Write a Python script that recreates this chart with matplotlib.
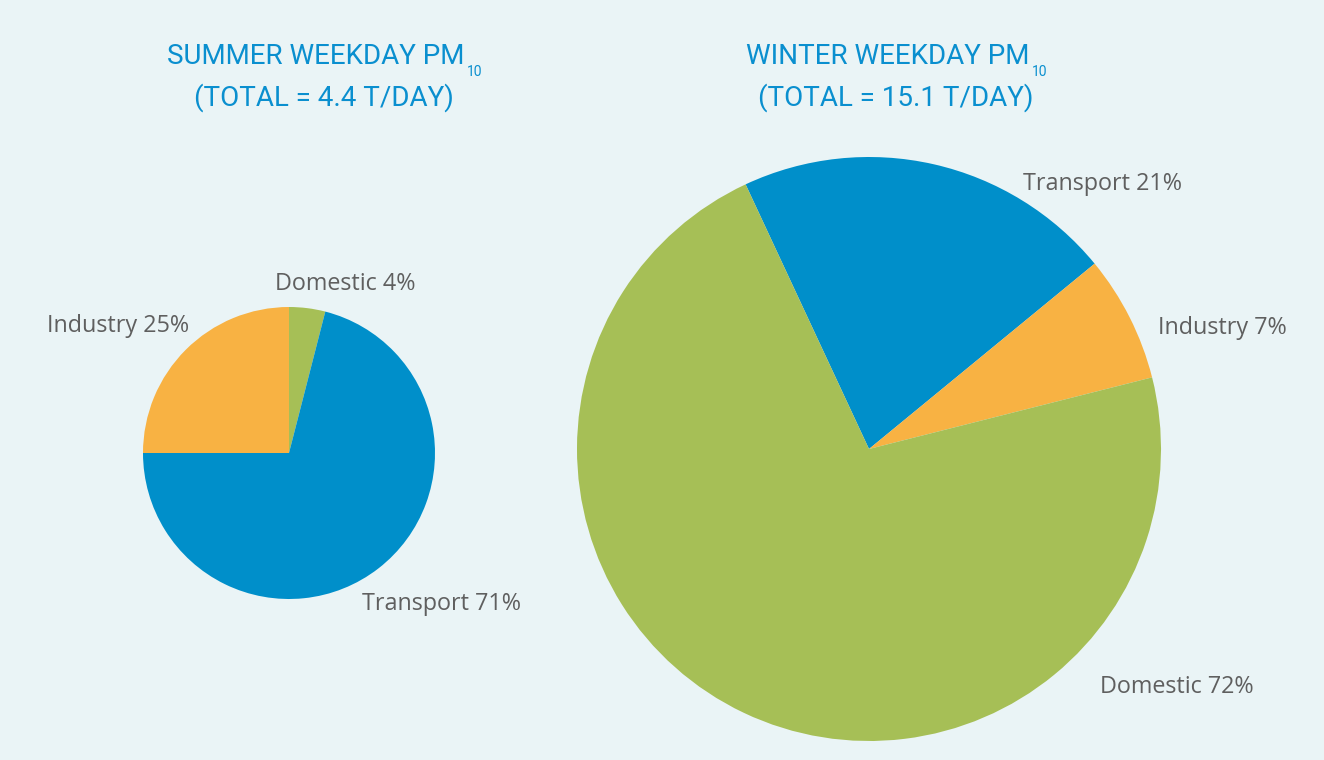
import matplotlib.pyplot as plt

# data
summer_labels = ['Domestic', 'Transport', 'Industry']
summer_share = [4, 71, 25]
winter_labels = ['Transport', 'Industry', 'Domestic']
winter_share = [21, 7, 72]
summer_total = 4.4
winter_total = 15.1

colors = {'Transport': '#008fca', 'Industry': '#f8b243', 'Domestic': '#a6bf56'}
bg = '#eaf4f6'
title_color = '#0a8fcf'
label_color = '#5f5f5f'

W, H = 1324, 760
fig = plt.figure(figsize=(W / 100, H / 100), dpi=100)
fig.patch.set_facecolor(bg)


def pie_axes(cx, cy, r):
    # cx, cy, r in pixels from the top-left corner
    return fig.add_axes([(cx - r) / W, (H - cy - r) / H, 2 * r / W, 2 * r / H])


def draw_pie(ax, labels, share, start):
    ax.pie(share, colors=[colors[l] for l in labels], startangle=start,
           counterclock=False, radius=1, wedgeprops=dict(linewidth=0))
    ax.set_xlim(-1, 1)
    ax.set_ylim(-1, 1)
    ax.set_aspect('equal')
    ax.axis('off')


ax1 = pie_axes(289, 453, 146)
draw_pie(ax1, summer_labels, summer_share, 90)
ax2 = pie_axes(869, 449, 292)
draw_pie(ax2, winter_labels, winter_share, 115)

# slice labels, positions in pixels (left x, centre y)
summer_pos = [(275, 284), (362, 604), (47, 326)]
winter_pos = [(1023, 184), (1158, 328), (1100, 687)]
lab_font = ['Open Sans', 'DejaVu Sans']
for labels, share, pos in [(summer_labels, summer_share, summer_pos),
                           (winter_labels, winter_share, winter_pos)]:
    for l, s, (x, y) in zip(labels, share, pos):
        fig.text(x / W, 1 - y / H, '{} {}%'.format(l, s), fontsize=16.8,
                 color=label_color, family=lab_font, ha='left', va='center')

# titles
title_font = ['Roboto', 'DejaVu Sans']
renderer = fig.canvas.get_renderer()
for cx, name, total in [(316, 'SUMMER', summer_total),
                        (888, 'WINTER', winter_total)]:
    t1 = fig.text(cx / W, 1 - 56 / H, '{} WEEKDAY PM'.format(name),
                  fontsize=20, color=title_color, family=title_font,
                  ha='center', va='center')
    fig.text((cx + 8) / W, 1 - 98 / H, '(TOTAL = {} T/DAY)'.format(total),
             fontsize=20, color=title_color, family=title_font,
             ha='center', va='center')
    bb = t1.get_window_extent(renderer)
    fig.text((bb.x1 + 2) / W, 1 - 72 / H, '10', fontsize=10,
             color=title_color, family=title_font, ha='left', va='center')

fig.savefig('out.png', dpi=100, facecolor=bg)
